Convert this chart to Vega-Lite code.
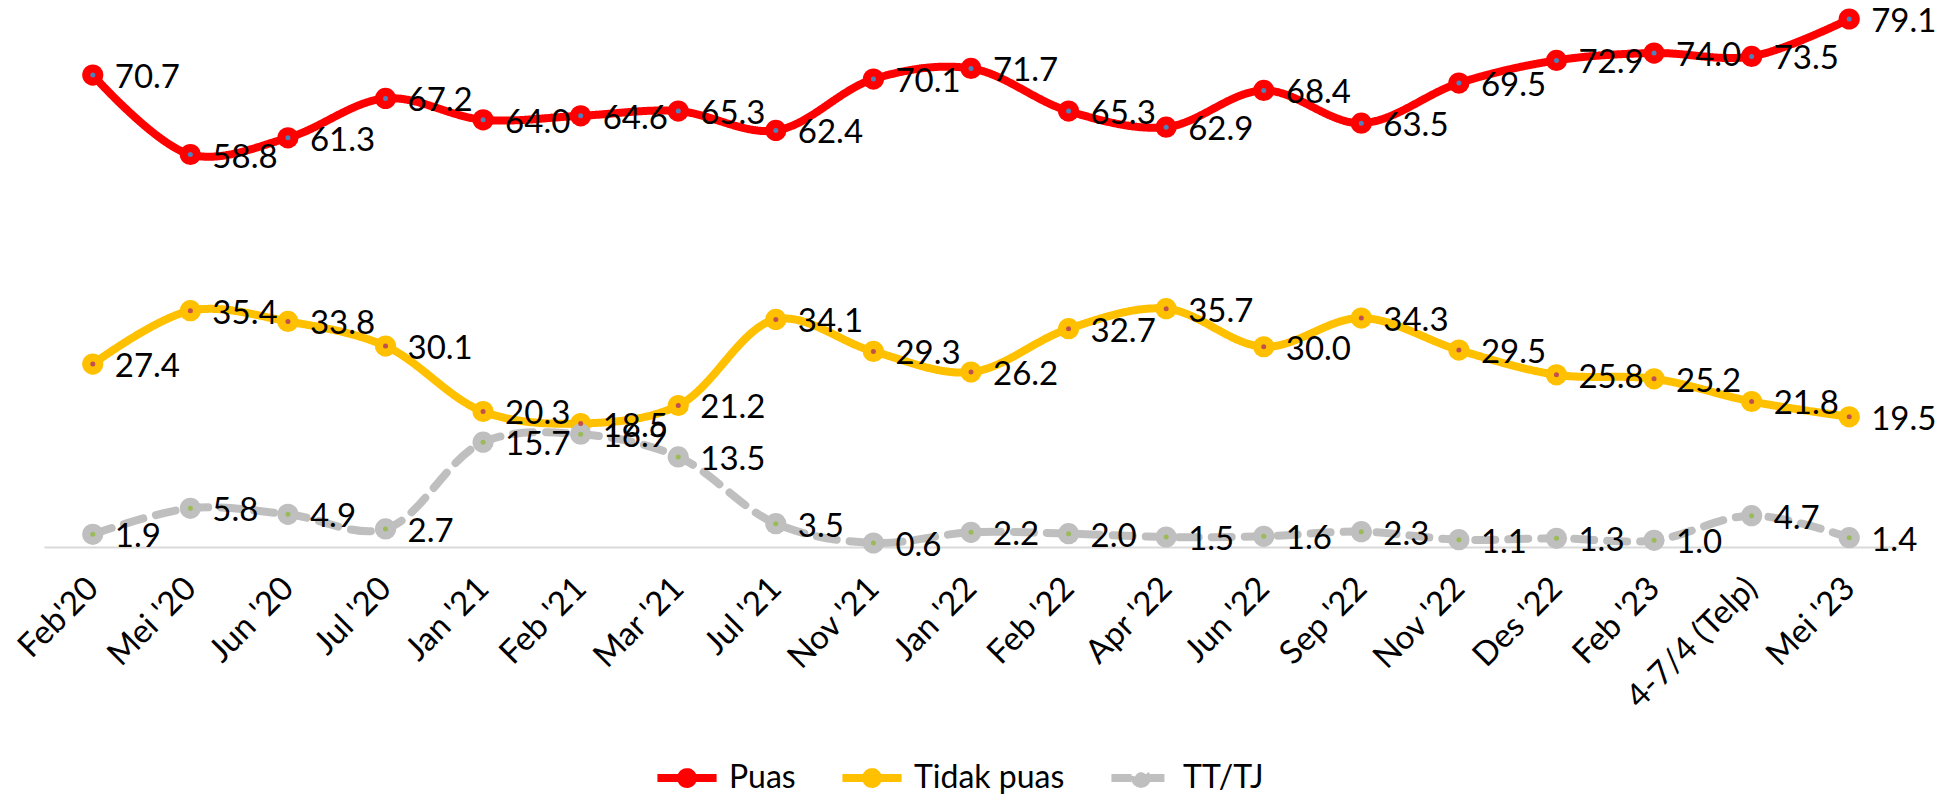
{
 "$schema": "https://vega.github.io/schema/vega-lite/v6.json",
 "width": 1854, "height": 534,
 "autosize": {"type": "none"},
 "padding": {"left": 44, "top": 13, "right": 44, "bottom": 250},
 "background": "white",
 "config": {"view": {"stroke": null}, "font": "Lato", "text": {"font": "Lato"}},
 "data": {"values": [
  {"cat": "Feb'20", "series": "Puas", "value": 70.7},
  {"cat": "Mei '20", "series": "Puas", "value": 58.8},
  {"cat": "Jun '20", "series": "Puas", "value": 61.3},
  {"cat": "Jul '20", "series": "Puas", "value": 67.2},
  {"cat": "Jan '21", "series": "Puas", "value": 64.0},
  {"cat": "Feb '21", "series": "Puas", "value": 64.6},
  {"cat": "Mar '21", "series": "Puas", "value": 65.3},
  {"cat": "Jul '21", "series": "Puas", "value": 62.4},
  {"cat": "Nov '21", "series": "Puas", "value": 70.1},
  {"cat": "Jan '22", "series": "Puas", "value": 71.7},
  {"cat": "Feb '22", "series": "Puas", "value": 65.3},
  {"cat": "Apr '22", "series": "Puas", "value": 62.9},
  {"cat": "Jun '22", "series": "Puas", "value": 68.4},
  {"cat": "Sep '22", "series": "Puas", "value": 63.5},
  {"cat": "Nov '22", "series": "Puas", "value": 69.5},
  {"cat": "Des '22", "series": "Puas", "value": 72.9},
  {"cat": "Feb '23", "series": "Puas", "value": 74.0},
  {"cat": "4-7/4 (Telp)", "series": "Puas", "value": 73.5},
  {"cat": "Mei '23", "series": "Puas", "value": 79.1},
  {"cat": "Feb'20", "series": "Tidak puas", "value": 27.4},
  {"cat": "Mei '20", "series": "Tidak puas", "value": 35.4},
  {"cat": "Jun '20", "series": "Tidak puas", "value": 33.8},
  {"cat": "Jul '20", "series": "Tidak puas", "value": 30.1},
  {"cat": "Jan '21", "series": "Tidak puas", "value": 20.3},
  {"cat": "Feb '21", "series": "Tidak puas", "value": 18.5},
  {"cat": "Mar '21", "series": "Tidak puas", "value": 21.2},
  {"cat": "Jul '21", "series": "Tidak puas", "value": 34.1},
  {"cat": "Nov '21", "series": "Tidak puas", "value": 29.3},
  {"cat": "Jan '22", "series": "Tidak puas", "value": 26.2},
  {"cat": "Feb '22", "series": "Tidak puas", "value": 32.7},
  {"cat": "Apr '22", "series": "Tidak puas", "value": 35.7},
  {"cat": "Jun '22", "series": "Tidak puas", "value": 30.0},
  {"cat": "Sep '22", "series": "Tidak puas", "value": 34.3},
  {"cat": "Nov '22", "series": "Tidak puas", "value": 29.5},
  {"cat": "Des '22", "series": "Tidak puas", "value": 25.8},
  {"cat": "Feb '23", "series": "Tidak puas", "value": 25.2},
  {"cat": "4-7/4 (Telp)", "series": "Tidak puas", "value": 21.8},
  {"cat": "Mei '23", "series": "Tidak puas", "value": 19.5},
  {"cat": "Feb'20", "series": "TT/TJ", "value": 1.9},
  {"cat": "Mei '20", "series": "TT/TJ", "value": 5.8},
  {"cat": "Jun '20", "series": "TT/TJ", "value": 4.9},
  {"cat": "Jul '20", "series": "TT/TJ", "value": 2.7},
  {"cat": "Jan '21", "series": "TT/TJ", "value": 15.7},
  {"cat": "Feb '21", "series": "TT/TJ", "value": 16.9},
  {"cat": "Mar '21", "series": "TT/TJ", "value": 13.5},
  {"cat": "Jul '21", "series": "TT/TJ", "value": 3.5},
  {"cat": "Nov '21", "series": "TT/TJ", "value": 0.6},
  {"cat": "Jan '22", "series": "TT/TJ", "value": 2.2},
  {"cat": "Feb '22", "series": "TT/TJ", "value": 2.0},
  {"cat": "Apr '22", "series": "TT/TJ", "value": 1.5},
  {"cat": "Jun '22", "series": "TT/TJ", "value": 1.6},
  {"cat": "Sep '22", "series": "TT/TJ", "value": 2.3},
  {"cat": "Nov '22", "series": "TT/TJ", "value": 1.1},
  {"cat": "Des '22", "series": "TT/TJ", "value": 1.3},
  {"cat": "Feb '23", "series": "TT/TJ", "value": 1.0},
  {"cat": "4-7/4 (Telp)", "series": "TT/TJ", "value": 4.7},
  {"cat": "Mei '23", "series": "TT/TJ", "value": 1.4}
 ]},
 "encoding": {
  "x": {"field": "cat", "type": "ordinal",
   "sort": ["Feb'20", "Mei '20", "Jun '20", "Jul '20", "Jan '21", "Feb '21", "Mar '21", "Jul '21", "Nov '21", "Jan '22", "Feb '22", "Apr '22", "Jun '22", "Sep '22", "Nov '22", "Des '22", "Feb '23", "4-7/4 (Telp)", "Mei '23"],
   "scale": {"type": "point", "padding": 0.5},
   "axis": {"title": null, "domain": true, "domainColor": "#d9d9d9", "domainWidth": 2, "ticks": false, "grid": false,
     "labelAngle": -45, "labelAlign": "right", "labelBaseline": "middle", "labelFontSize": 33, "labelColor": "#000000", "labelPadding": 36, "labelFont": "Lato"}},
  "y": {"field": "value", "type": "quantitative", "scale": {"domain": [0, 80]}, "axis": null}
 },
 "layer": [
  {"mark": {"type": "line", "interpolate": "catmull-rom", "strokeWidth": 8, "strokeCap": "round"},
   "encoding": {
    "color": {"field": "series", "type": "nominal", "scale": {"domain": ["Puas", "Tidak puas", "TT/TJ"], "range": ["#FF0000", "#FFC000", "#BFBFBF"]},
      "legend": {"orient": "none", "legendX": 609, "legendY": 731, "direction": "horizontal", "title": null, "labelFontSize": 32, "labelFont": "Lato", "labelColor": "#000000",
        "symbolType": "M-1,0H1M0.2,0A0.2,0.2,0,1,1,-0.2,0A0.2,0.2,0,1,1,0.2,0", "symbolSize": 3500, "symbolStrokeWidth": 8, "columnPadding": 30, "labelOffset": 8}},
    "strokeDash": {"field": "series", "type": "nominal", "scale": {"domain": ["Puas", "Tidak puas", "TT/TJ"], "range": [[1, 0], [1, 0], [20, 13]]}, "legend": null}
   }},
  {"mark": {"type": "point", "filled": true, "size": 450, "opacity": 1},
   "encoding": {"color": {"field": "series", "type": "nominal", "legend": null}}},
  {"mark": {"type": "point", "filled": true, "size": 25, "opacity": 1, "strokeWidth": 0},
   "encoding": {"fill": {"field": "series", "type": "nominal", "scale": {"domain": ["Puas", "Tidak puas", "TT/TJ"], "range": ["#4F81BD", "#C0504D", "#9BBB59"]}, "legend": null}}},
  {"mark": {"type": "text", "align": "left", "baseline": "middle", "dx": 22, "dy": 3, "fontSize": 33, "font": "Lato", "color": "#000000"},
   "encoding": {"text": {"field": "value", "type": "quantitative", "format": ".1f"}}}
 ]
}
